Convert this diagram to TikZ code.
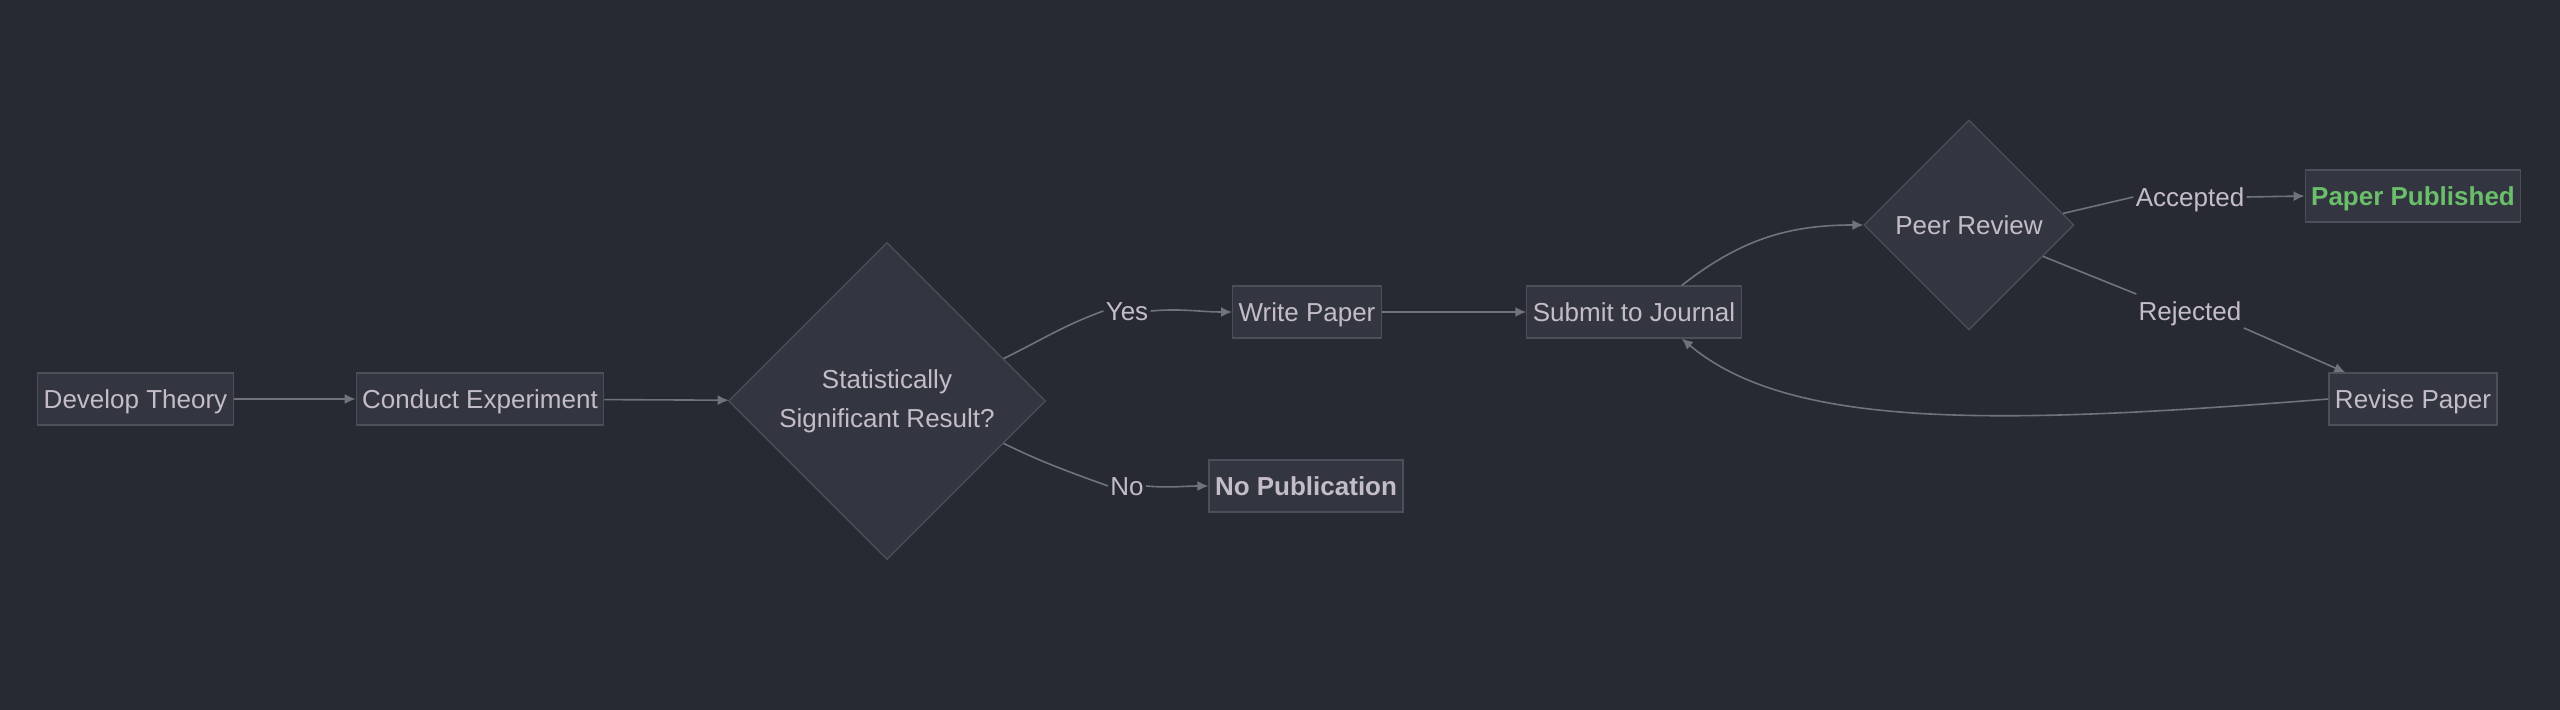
\documentclass[tikz,border=0pt]{standalone}
\usepackage{fontspec}
\setmainfont{Liberation Sans}
\usetikzlibrary{shapes.geometric,arrows.meta}
\definecolor{bgcol}{HTML}{282A33}
\definecolor{nodefill}{HTML}{333641}
\definecolor{nodeline}{HTML}{4C4F5A}
\definecolor{txtcol}{HTML}{C4BDC8}
\definecolor{linkcol}{HTML}{70727C}
\definecolor{okgreen}{HTML}{6BBF6B}
\tikzset{
  box/.style={draw=nodeline, fill=nodefill, line width=0.6pt, text=txtcol,
    inner xsep=3pt, inner ysep=0pt, text height=11.8pt, text depth=2.75pt,
    minimum height=26pt},
  decision/.style={diamond, aspect=1, draw=nodeline, fill=nodefill,
    line width=0.6pt, text=txtcol, inner sep=0pt, align=center},
  edgelabel/.style={fill=bgcol, text=txtcol, inner sep=1pt,
    text height=11.8pt, text depth=2.75pt},
  link/.style={draw=linkcol, line width=0.8pt,
    -{Latex[length=5.5pt,width=5pt]}},
}
\begin{document}
\begin{tikzpicture}[x=0.5pt, y=-0.5pt, font=\fontsize{13}{19.5}\selectfont]
  \path[fill=bgcol] (0,0) rectangle (2560,710);
  % nodes
  \node[box] (theory) at (135.5,399) {Develop Theory};
  \node[box] (experiment) at (480,399) {Conduct Experiment};
  \node[decision, minimum size=158.5pt] (signif) at (887,401)
    {Statistically\\Significant Result?};
  \node[box] (write) at (1307,312) {Write Paper};
  \node[box, font=\fontsize{13}{19.5}\selectfont\bfseries] (nopub) at (1306,486) {No Publication};
  \node[box] (submit) at (1634,312) {Submit to Journal};
  \node[decision, minimum size=105pt] (review) at (1969,225) {Peer Review};
  \node[box, text=okgreen, font=\fontsize{13}{19.5}\selectfont\bfseries] (published) at (2413,196) {Paper Published};
  \node[box] (revise) at (2413,399) {Revise Paper};
  % edge labels
  \node[edgelabel] (yes) at (1127,311) {Yes};
  \node[edgelabel] (no) at (1127,486) {No};
  \node[edgelabel] (accepted) at (2190,197) {Accepted};
  \node[edgelabel] (rejected) at (2190,311) {Rejected};
  % connectors
  \draw[link] (theory) -- (experiment);
  \draw[link] (experiment) -- (signif);
  \draw[draw=linkcol, line width=0.8pt] (signif.20) to[out=26,in=200] (yes.west);
  \draw[link] (yes.east) to[out=5,in=180] (write.west);
  \draw[draw=linkcol, line width=0.8pt] (signif.-20) to[out=-26,in=160] (no.west);
  \draw[link] (no.east) to[out=-5,in=180] (nopub.west);
  \draw[link] (write) -- (submit);
  \draw[link] ([xshift=-30pt]submit.north east) to[out=38,in=180] (review.west);
  \draw[draw=linkcol, line width=0.8pt] (review.7) -- (accepted.west);
  \draw[link] (accepted.east) -- (published.west);
  \draw[draw=linkcol, line width=0.8pt] (review.-23) -- (rejected.north west);
  \draw[link] (rejected.south east) -- ([xshift=8.5pt]revise.north west);
  \draw[link] (revise.west) .. controls (2000,425) and (1790,430) .. ([xshift=-30pt]submit.south east);
\end{tikzpicture}
\end{document}
